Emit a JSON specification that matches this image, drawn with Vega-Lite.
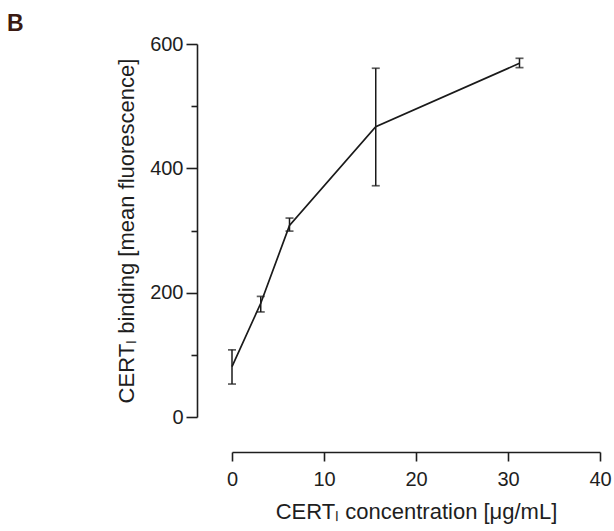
{
  "$schema": "https://vega.github.io/schema/vega-lite/v6.json",
  "width": 368,
  "height": 373,
  "autosize": {"type": "none"},
  "padding": {"left": 232, "top": 44, "right": 14, "bottom": 114},
  "background": "white",
  "title": {
    "text": "B",
    "anchor": "start",
    "frame": "group",
    "fontSize": 23,
    "fontWeight": "bold",
    "font": "Liberation Sans",
    "color": "#3b1a12",
    "dx": -225,
    "dy": 26,
    "offset": 6,
    "baseline": "alphabetic"
  },
  "config": {
    "view": {"stroke": null},
    "axis": {
      "grid": false,
      "domainColor": "#1e1e1e",
      "domainWidth": 1.6,
      "tickColor": "#1e1e1e",
      "tickWidth": 1.6,
      "labelFont": "Liberation Sans",
      "labelFontSize": 20,
      "labelColor": "#1e1e1e",
      "labelFlush": false,
      "titleFont": "Liberation Sans",
      "titleFontSize": 22,
      "titleFontWeight": "normal",
      "titleColor": "#1e1e1e"
    }
  },
  "data": {
    "values": [
      {"conc": 0, "binding": 81, "lo": 53, "hi": 108},
      {"conc": 3.125, "binding": 183, "lo": 169, "hi": 194},
      {"conc": 6.25, "binding": 308, "lo": 299, "hi": 320},
      {"conc": 15.625, "binding": 467, "lo": 372, "hi": 561},
      {"conc": 31.25, "binding": 569, "lo": 562, "hi": 577}
    ]
  },
  "layer": [
    {
      "mark": {"type": "line", "color": "#1a1a1a", "strokeWidth": 1.7},
      "encoding": {
        "x": {
          "field": "conc",
          "type": "quantitative",
          "scale": {"domain": [0, 40], "nice": false},
          "title": "CERTₗ concentration [μg/mL]",
          "axis": {
            "values": [0, 10, 20, 30, 40],
            "offset": 35,
            "tickSize": 9,
            "labelPadding": 8,
            "titlePadding": 12
          }
        },
        "y": {
          "field": "binding",
          "type": "quantitative",
          "scale": {"domain": [0, 600], "nice": false},
          "title": "CERTₗ binding [mean fluorescence]",
          "axis": {
            "values": [0, 100, 200, 300, 400, 500, 600],
            "labelExpr": "datum.value % 200 === 0 ? datum.label : ''",
            "tickSize": {"condition": {"test": "datum.value % 200 === 0", "value": 11}, "value": 6},
            "offset": 35,
            "labelPadding": 3,
            "titlePadding": 11
          }
        }
      }
    },
    {
      "mark": {"type": "errorbar", "ticks": {"size": 8, "thickness": 1.7, "color": "#1a1a1a"}, "thickness": 1.5, "color": "#1a1a1a"},
      "encoding": {
        "x": {"field": "conc", "type": "quantitative", "title": "CERTₗ concentration [μg/mL]"},
        "y": {"field": "lo", "type": "quantitative", "title": "CERTₗ binding [mean fluorescence]"},
        "y2": {"field": "hi"}
      }
    }
  ]
}
